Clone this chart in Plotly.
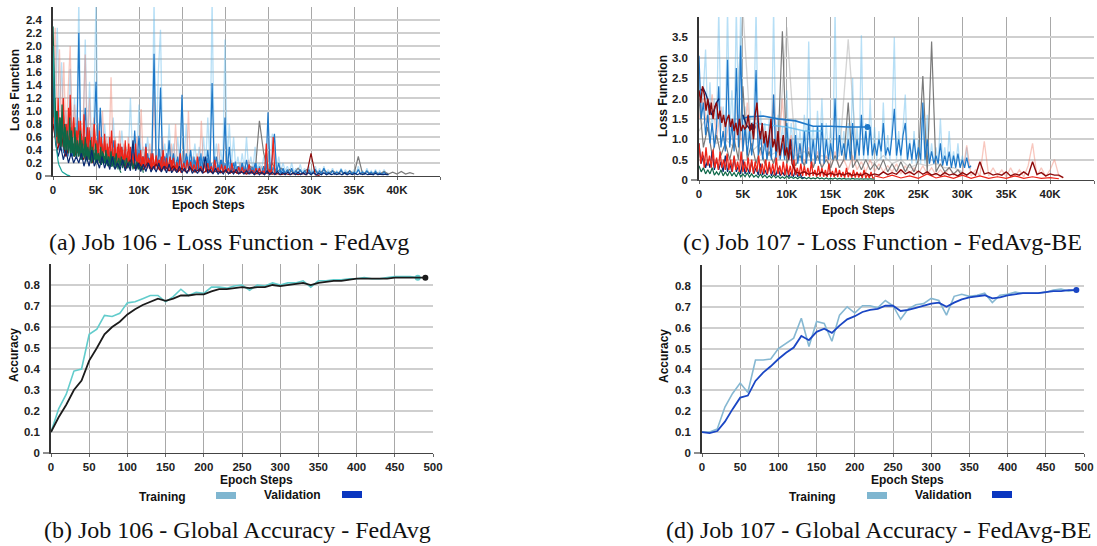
import plotly.graph_objects as go

W, H = 1097, 546

# ---------------- DATA ----------------
# Panel (a) Job 106 loss (x start, step, values)
a_lightblue_start, a_lightblue_step = 0, 250
a_lightblue = [2.3, 1.2, 2.28, 0.9, 1.75, 0.7, 1.0, 0.6,
               1.65, 0.5, 1.2, 0.45, 2.7, 0.4, 0.6, 2.1,
               0.4, 1.45, 0.5, 0.9, 2.7, 0.35, 1.05, 0.4,
               0.8, 0.3, 0.6, 0.3, 0.9, 0.3, 0.5, 0.25,
               0.7, 0.3, 0.45, 0.25, 1.2, 0.3, 0.5, 0.25,
               1.1, 0.3, 0.45, 0.2, 0.6, 0.25, 0.4, 2.7,
               0.3, 1.6, 2.25, 0.3, 0.5, 0.2, 0.8, 0.25,
               0.5, 0.2, 0.6, 0.2, 1.2, 0.25, 0.8, 0.2,
               0.4, 0.2, 0.5, 0.15, 0.45, 0.2, 0.6, 0.15,
               0.9, 0.2, 2.7, 0.2, 0.5, 0.15, 0.4, 0.15,
               2.1, 0.2, 0.8, 0.15, 0.6, 0.12, 0.3, 0.1,
               0.35, 0.1, 0.6, 0.1, 0.3, 0.1, 0.45, 0.1,
               0.2, 0.1, 0.3, 0.08, 0.35, 0.1, 0.65, 0.55,
               0.1, 0.3, 0.08, 0.2, 0.08, 0.15, 0.06, 0.2,
               0.06, 0.12, 0.06, 0.18, 0.05, 0.12, 0.05, 0.15,
               0.05, 0.1, 0.15, 0.05, 0.12, 0.04, 0.15, 0.04,
               0.1, 0.04, 0.12, 0.04, 0.08, 0.04, 0.12, 0.04,
               0.1, 0.04, 0.08, 0.04, 0.1, 0.04, 0.15, 0.04,
               0.08, 0.03, 0.12, 0.03, 0.08, 0.03, 0.1, 0.03,
               0.08, 0.03, 0.1, 0.03, 0.05]
a_blue_start, a_blue_step = 0, 250
a_blue = [1.6, 0.6, 0.9, 0.4, 0.7, 0.35, 0.8, 0.3,
          0.6, 0.3, 0.5, 0.3, 2.2, 0.3, 0.5, 1.05,
          0.3, 0.7, 0.25, 0.5, 1.45, 0.3, 1.05, 0.25,
          0.5, 0.2, 0.4, 0.2, 0.55, 0.2, 0.35, 0.2,
          0.45, 0.15, 0.3, 0.15, 0.4, 0.15, 0.7, 0.15,
          0.62, 0.15, 0.3, 0.12, 0.35, 0.12, 0.3, 1.88,
          0.15, 0.3, 1.36, 0.15, 0.3, 0.1, 0.55, 0.1,
          0.35, 0.1, 0.3, 0.1, 1.25, 0.1, 0.35, 0.1,
          0.4, 0.08, 0.25, 0.08, 0.3, 0.08, 0.3, 0.08,
          0.4, 0.08, 1.43, 0.08, 0.3, 0.06, 0.25, 0.06,
          0.9, 0.06, 0.45, 0.06, 0.2, 0.05, 0.15, 0.05,
          0.2, 0.05, 0.25, 0.05, 0.12, 0.04, 0.2, 0.04,
          0.1, 0.04, 0.15, 0.04, 0.98, 0.04, 0.3, 0.65,
          0.05, 0.2, 0.04, 0.12, 0.04, 0.1, 0.03, 0.12,
          0.03, 0.08, 0.03, 0.1, 0.03, 0.08, 0.03, 0.1,
          0.03, 0.06, 0.1, 0.03, 0.08, 0.03, 0.12, 0.03,
          0.06, 0.03, 0.08, 0.03, 0.06, 0.03, 0.1, 0.03,
          0.06, 0.03, 0.08, 0.03, 0.06, 0.03, 0.1, 0.03,
          0.06, 0.03, 0.08, 0.03, 0.06, 0.02, 0.07, 0.02,
          0.05, 0.02, 0.06, 0.02, 0.02]
a_midblue_start, a_midblue_step = 8000, 200
a_midblue = [0.35, 0.15, 0.4, 0.12, 0.3, 0.15, 0.45, 0.12, 0.3, 0.14,
             0.4, 0.12, 0.3, 0.1, 0.5, 0.12, 0.28, 0.1, 0.35, 0.1,
             0.3, 0.1, 0.42, 0.1, 0.28, 0.09, 0.35, 0.09, 0.25, 0.08,
             0.32, 0.08, 0.25, 0.08, 0.4, 0.08, 0.22, 0.07, 0.3, 0.07,
             0.25, 0.07, 0.3, 0.06, 0.22, 0.06, 0.35, 0.06, 0.2, 0.06,
             0.28, 0.05, 0.2, 0.05, 0.3, 0.05, 0.18, 0.05, 0.25, 0.05,
             0.2, 0.05, 0.25, 0.04, 0.18, 0.04, 0.22, 0.04, 0.15, 0.04,
             0.2, 0.04, 0.15, 0.04, 0.18, 0.03, 0.14, 0.03, 0.2, 0.03,
             0.15, 0.03, 0.12, 0.03, 0.16, 0.03, 0.1, 0.03, 0.14, 0.03,
             0.12, 0.03, 0.1, 0.02, 0.08, 0.02]
a_salmon_start, a_salmon_step = 0, 250
a_salmon = [1.5, 2.28, 0.8, 1.95, 0.7, 1.75, 0.6, 1.2,
            2.0, 0.5, 1.1, 0.45, 0.9, 0.4, 0.8, 1.87,
            0.35, 1.2, 0.35, 0.9, 0.3, 0.8, 0.3, 1.0,
            0.3, 0.6, 0.25, 1.52, 0.25, 0.6, 0.2, 0.7,
            0.2, 0.5, 0.2, 0.6, 0.2, 0.45, 0.18, 0.6,
            0.18, 1.03, 0.18, 0.45, 0.15, 0.5, 0.15, 1.3,
            0.15, 0.4, 0.12, 0.6, 0.12, 0.35, 0.12, 0.5,
            0.1, 0.8, 0.1, 0.35, 0.1, 0.4, 0.1, 1.0,
            0.1, 0.3, 0.08, 0.35, 0.08, 0.85, 0.08, 0.3,
            0.08, 0.25, 0.07, 0.3, 0.07, 0.5, 0.07, 0.25,
            0.06, 0.2, 0.06, 0.25, 0.05, 0.15, 0.05, 0.2,
            0.05, 0.15, 0.05, 0.25, 0.04, 0.15, 0.04, 0.12,
            0.04, 0.15, 0.04, 0.1, 0.04, 0.2, 0.04, 0.12,
            0.03]
a_red_start, a_red_step = 0, 200
a_red = [1.3, 0.6, 1.0, 0.45, 0.9, 0.5, 1.2, 0.4, 0.8, 0.35,
         1.25, 0.4, 0.9, 0.35, 0.7, 0.3, 0.85, 0.3, 0.6, 0.25,
         0.75, 0.25, 0.55, 0.2, 0.8, 0.25, 0.5, 0.2, 0.6, 0.2,
         0.55, 0.2, 0.45, 0.18, 0.7, 0.2, 0.4, 0.15, 0.5, 0.15,
         0.45, 0.15, 0.35, 0.12, 0.5, 0.15, 0.3, 0.12, 0.4, 0.12,
         0.35, 0.12, 0.3, 0.1, 0.45, 0.12, 0.25, 0.1, 0.35, 0.1,
         0.3, 0.1, 0.25, 0.08, 0.4, 0.1, 0.22, 0.08, 0.3, 0.08,
         0.28, 0.08, 0.2, 0.07, 0.35, 0.08, 0.2, 0.07, 0.25, 0.07,
         0.22, 0.07, 0.18, 0.06, 0.3, 0.07, 0.15, 0.06, 0.2, 0.06,
         0.2, 0.06, 0.15, 0.05, 0.25, 0.06, 0.13, 0.05, 0.18, 0.05,
         0.16, 0.05, 0.12, 0.04, 0.2, 0.05, 0.1, 0.04, 0.14, 0.04,
         0.14, 0.04, 0.1, 0.04, 0.18, 0.04, 0.09, 0.03, 0.12, 0.03,
         0.12, 0.03, 0.08, 0.03, 0.5, 0.03, 0.1, 0.03, 0.6, 0.03, 0.02]
a_red2_start, a_red2_step = 0, 150
a_red2 = [1.1, 0.7, 0.95, 0.5, 1.2, 0.6, 0.85, 0.45, 1.0, 0.55,
          0.8, 0.45, 1.05, 0.5, 0.75, 0.4, 0.9, 0.45, 0.7, 0.35,
          0.85, 0.4, 0.65, 0.35, 0.95, 0.4, 0.6, 0.3, 0.75, 0.35,
          0.6, 0.3, 0.8, 0.3, 0.55, 0.28, 0.7, 0.3, 0.5, 0.25,
          0.65, 0.25, 0.5, 0.22, 0.6, 0.25, 0.45, 0.2, 0.55, 0.22,
          0.45, 0.2, 0.5, 0.2, 0.4, 0.18, 0.55, 0.2, 0.38, 0.16,
          0.45, 0.16, 0.35, 0.15, 0.5, 0.15, 0.32, 0.14, 0.4, 0.13,
          0.3, 0.12, 0.38, 0.12, 0.28, 0.11, 0.35, 0.11, 0.26, 0.1,
          0.32, 0.1, 0.25, 0.09, 0.3, 0.09, 0.22, 0.08, 0.28, 0.08,
          0.2, 0.08, 0.25, 0.07, 0.18, 0.07, 0.22, 0.06, 0.15, 0.06,
          0.05]
a_darkred_start, a_darkred_step = 0, 500
a_darkred = [0.8, 0.4, 0.6, 0.3, 0.5, 0.3, 0.45, 0.25, 0.4, 0.2,
             0.35, 0.2, 0.3, 0.15, 0.3, 0.15, 0.25, 0.12, 0.25, 0.12,
             0.2, 0.1, 0.2, 0.1, 0.18, 0.08, 0.15, 0.08, 0.15, 0.07,
             0.12, 0.06, 0.12, 0.06, 0.1, 0.05, 0.1, 0.05, 0.08, 0.05,
             0.08, 0.04, 0.07, 0.04, 0.06, 0.03, 0.06, 0.03, 0.05, 0.03,
             0.05, 0.03, 0.04, 0.02, 0.04, 0.02, 0.04, 0.02, 0.04, 0.02,
             0.35, 0.02, 0.01]
a_green_start, a_green_step = 0, 150
a_green = [2.3, 1.2, 0.7, 1.0, 0.5, 0.9, 0.4, 1.1, 0.45, 0.8,
           0.4, 0.7, 0.35, 0.9, 0.35, 0.6, 0.3, 0.75, 0.3, 0.55,
           0.3, 0.7, 0.25, 0.5, 0.3, 0.6, 0.25, 0.45, 0.25, 0.55,
           0.2, 0.4, 0.25, 0.5, 0.2, 0.35, 0.22, 0.45, 0.2, 0.35,
           0.2, 0.4, 0.18, 0.3, 0.2, 0.38, 0.15, 0.3, 0.18, 0.35,
           0.15, 0.28, 0.15, 0.3, 0.12, 0.25, 0.15, 0.28, 0.12, 0.22,
           0.12, 0.25, 0.1, 0.2, 0.12, 0.22, 0.1, 0.18, 0.1, 0.15, 0.05]
a_green2_start, a_green2_step = 0, 120
a_green2 = [1.6, 0.9, 1.2, 0.6, 1.0, 0.7, 0.5, 0.9, 0.45, 0.8,
            0.6, 0.4, 0.75, 0.35, 0.65, 0.4, 0.55, 0.3, 0.7, 0.35,
            0.5, 0.3, 0.6, 0.28, 0.5, 0.3, 0.45, 0.25, 0.55, 0.28,
            0.4, 0.25, 0.5, 0.22, 0.42, 0.25, 0.38, 0.2, 0.45, 0.22,
            0.35, 0.2, 0.4, 0.18, 0.35, 0.2, 0.32, 0.17, 0.38, 0.18,
            0.3, 0.16, 0.34, 0.15, 0.3, 0.15, 0.28, 0.14, 0.3, 0.13,
            0.25, 0.12, 0.22, 0.1, 0.2, 0.08, 0.05]
a_navy_start, a_navy_step = 0, 300
a_navy = [1.55, 0.5, 0.3, 0.45, 0.25, 0.4, 0.2, 0.35, 0.2, 0.3,
          0.2, 0.35, 0.15, 0.3, 0.15, 0.4, 0.15, 0.25, 0.12, 0.3,
          0.12, 0.25, 0.1, 0.3, 0.1, 0.2, 0.1, 0.25, 0.08, 0.2,
          0.08, 0.55, 0.08, 0.2, 0.07, 0.18, 0.07, 0.2, 0.06, 0.15,
          0.06, 0.2, 0.06, 0.15, 0.05, 0.18, 0.05, 0.12, 0.05, 0.15,
          0.05, 0.12, 0.04, 0.15, 0.04, 0.1, 0.04, 0.12, 0.04, 0.3,
          0.04, 0.1, 0.03, 0.12, 0.03, 0.08, 0.03, 0.1, 0.03, 0.08,
          0.03, 0.1, 0.03, 0.07, 0.03, 0.08, 0.03, 0.07, 0.02, 0.08,
          0.02, 0.06, 0.02, 0.08, 0.02, 0.06, 0.02, 0.07, 0.02, 0.05,
          0.02, 0.06, 0.02, 0.05, 0.02, 0.06, 0.02, 0.05, 0.02, 0.05,
          0.02, 0.05, 0.02, 0.04, 0.02, 0.05, 0.02, 0.04, 0.02, 0.04,
          0.02, 0.04, 0.02, 0.05, 0.02, 0.04, 0.02, 0.04, 0.02, 0.04,
          0.02, 0.04, 0.02, 0.03, 0.02, 0.04, 0.02, 0.03, 0.02, 0.03,
          0.02]
a_gray_start, a_gray_step = 20000, 500
a_gray = [0.1, 0.05, 0.12, 0.05, 0.1, 0.05, 0.15, 0.05, 0.85, 0.35,
          0.08, 0.2, 0.05, 0.12, 0.05, 0.1, 0.04, 0.12, 0.04, 0.1,
          0.04, 0.08, 0.04, 0.1, 0.04, 0.08, 0.04, 0.07, 0.03, 0.08,
          0.03, 0.3, 0.03, 0.07, 0.03, 0.06, 0.03, 0.07, 0.03, 0.06,
          0.03, 0.07, 0.03, 0.05, 0.03]
a_teal_start, a_teal_step = 0, 100
a_teal = [2.0, 1.2, 0.8, 0.55, 0.4, 0.3, 0.22, 0.17, 0.13, 0.1,
          0.08, 0.06, 0.05, 0.04, 0.03, 0.02, 0.02, 0.01, 0.01, 0.01, 0.0]

# Panel (c) Job 107 loss
c_lightblue_start, c_lightblue_step = 0, 250
c_lightblue = [2.6, 1.6, 2.2, 3.2, 1.4, 2.4, 1.2, 2.0,
               1.3, 4.2, 1.2, 1.8, 1.1, 4.2, 1.2, 2.2,
               1.0, 4.2, 1.5, 4.2, 1.0, 1.8, 0.9, 1.6,
               1.0, 1.5, 4.2, 0.9, 1.7, 0.9, 1.4, 0.8,
               1.5, 0.9, 4.2, 0.8, 1.6, 0.8, 1.3, 0.8,
               2.2, 0.7, 1.4, 0.7, 1.5, 0.7, 1.2, 0.7,
               1.6, 0.7, 3.4, 0.7, 1.3, 0.6, 1.7, 0.6,
               2.0, 0.6, 1.4, 0.6, 1.3, 0.6, 4.2, 0.6,
               1.5, 0.6, 1.2, 0.5, 1.4, 0.5, 2.5, 0.5,
               1.3, 0.5, 3.55, 0.5, 1.4, 0.5, 2.0, 0.5,
               1.3, 0.5, 1.2, 0.5, 1.9, 0.5, 1.1, 0.5,
               1.4, 3.5, 0.5, 1.2, 0.5, 1.3, 2.1, 0.5,
               1.0, 0.4, 1.2, 0.4, 1.0, 0.4, 1.7, 0.4,
               1.6, 0.4, 0.9, 0.4, 0.8, 0.4, 1.5, 0.4,
               0.8, 0.35, 1.2, 0.35, 0.7, 0.35, 0.9, 0.3,
               0.6, 0.3, 0.8, 0.3, 0.3]
c_blue_start, c_blue_step = 0, 250
c_blue = [3.05, 1.5, 1.9, 1.1, 1.6, 0.9, 1.4, 0.8,
          1.3, 2.3, 0.8, 1.2, 0.7, 2.95, 0.8, 1.4,
          0.7, 2.75, 0.8, 3.3, 0.7, 1.3, 0.6, 1.2,
          0.6, 1.1, 2.7, 0.6, 1.2, 0.5, 1.0, 0.5,
          1.1, 0.5, 2.1, 0.5, 1.1, 0.5, 0.9, 0.5,
          1.4, 0.5, 1.0, 0.4, 1.1, 0.4, 0.9, 0.4,
          1.2, 0.4, 1.5, 0.4, 1.0, 0.4, 1.3, 0.4,
          1.4, 0.4, 1.0, 0.5, 0.9, 0.5, 2.0, 0.5,
          1.1, 0.6, 0.9, 0.5, 1.0, 0.5, 1.4, 0.5,
          1.0, 0.6, 1.6, 0.6, 1.2, 0.6, 1.3, 0.6,
          0.9, 0.6, 1.0, 0.7, 1.4, 0.6, 0.8, 0.6,
          1.1, 1.75, 0.6, 1.0, 0.6, 1.1, 1.4, 0.5,
          0.9, 0.5, 1.0, 0.5, 0.8, 0.5, 1.9, 0.5,
          1.0, 0.4, 0.7, 0.4, 0.6, 0.4, 0.9, 0.35,
          0.6, 0.35, 0.7, 0.3, 0.6, 0.3, 0.65, 0.3,
          0.5, 0.3, 0.55, 0.3, 0.35]
c_blue_smooth_x = [5000, 5600, 7300, 9000, 11000, 13000, 15000, 17000, 19200]
c_blue_smooth = [1.5, 1.55, 1.57, 1.5, 1.45, 1.32, 1.32, 1.3, 1.3]
c_lightblue_smooth_x = [6000, 8000, 10000, 12000, 14000]
c_lightblue_smooth = [1.4, 1.35, 1.3, 1.2, 1.2]
c_darkred_early_start, c_darkred_early_step = 0, 200
c_darkred_early = [2.2, 1.9, 2.3, 2.1, 1.7, 2.0, 1.6, 1.9, 1.5, 1.8,
                   1.9, 1.5, 1.7, 1.4, 1.6, 1.3, 1.5, 1.6, 1.3, 1.5,
                   1.2, 1.4, 1.1, 1.5, 1.2, 1.35, 1.25, 1.3, 1.6, 1.2,
                   1.4, 1.0, 1.6, 1.9, 1.3, 1.0, 1.4, 0.9, 1.2, 0.8,
                   1.1, 1.5, 0.8, 1.0, 0.7, 1.2, 0.6, 0.9, 1.1, 0.6,
                   0.8, 0.5, 1.0, 0.4, 0.3, 0.2]
c_darkred_late_start, c_darkred_late_step = 11000, 500
c_darkred_late = [0.2, 0.16, 0.2, 0.14, 0.18, 0.13, 0.2, 0.12, 0.17, 0.12,
                  0.16, 0.12, 0.17, 0.11, 0.15, 0.11, 0.17, 0.11, 0.15, 0.12,
                  0.2, 0.13, 0.18, 0.14, 0.25, 0.15, 0.2, 0.13, 0.22, 0.14,
                  0.2, 0.12, 0.16, 0.1, 0.18, 0.12, 0.15, 0.1, 0.18, 0.12,
                  0.2, 0.12, 0.45, 0.15, 0.18, 0.12, 0.15, 0.12, 0.2, 0.1,
                  0.15, 0.12, 0.2, 0.12, 0.45, 0.14, 0.18, 0.1, 0.15, 0.12,
                  0.12, 0.06]
c_salmon_start, c_salmon_step = 0, 500
c_salmon = [1.5, 2.0, 1.2, 2.1, 1.0, 1.8, 0.9, 1.5, 0.8, 1.6,
            0.7, 1.9, 0.7, 1.4, 0.6, 1.2, 0.6, 2.1, 0.5, 2.0,
            0.5, 1.1, 0.4, 0.9, 0.4, 0.8, 0.35, 0.7, 0.3, 0.6,
            0.3, 0.7, 0.3, 0.5, 0.25, 0.6, 0.25, 0.45, 0.2, 0.5,
            0.2, 0.4, 0.2, 0.35, 0.2, 0.4, 0.15, 0.35, 0.15, 0.3,
            0.15, 0.35, 0.15, 0.3, 0.12, 0.25, 0.12, 0.3, 0.12, 0.25,
            0.1, 0.85, 0.1, 0.25, 0.1, 0.95, 0.1, 0.3, 0.1, 0.25,
            0.08, 0.3, 0.08, 0.25, 0.08, 0.35, 0.9, 0.1, 0.3, 0.08,
            0.25, 0.5, 0.1, 0.05]
c_red_start, c_red_step = 0, 200
c_red = [0.9, 0.4, 0.7, 0.3, 0.8, 0.35, 0.6, 0.3, 0.75, 0.3,
         0.55, 0.25, 0.7, 0.3, 0.5, 0.25, 0.65, 0.25, 0.5, 0.2,
         0.6, 0.25, 0.45, 0.2, 0.7, 0.2, 0.45, 0.2, 0.55, 0.2,
         0.5, 0.15, 0.45, 0.2, 0.6, 0.15, 0.4, 0.15, 0.5, 0.15,
         0.45, 0.15, 0.4, 0.12, 0.55, 0.15, 0.35, 0.12, 0.45, 0.12,
         0.4, 0.12, 0.35, 0.1, 0.5, 0.12, 0.3, 0.1, 0.4, 0.1,
         0.35, 0.1, 0.3, 0.08, 0.45, 0.1, 0.25, 0.08, 0.35, 0.08,
         0.3, 0.08, 0.25, 0.07, 0.4, 0.08, 0.22, 0.07, 0.3, 0.07,
         0.25, 0.07, 0.2, 0.06, 0.3, 0.07, 0.18, 0.06, 0.25, 0.06,
         0.2, 0.06, 0.18, 0.05, 0.25, 0.05, 0.15, 0.05, 0.2, 0.05,
         0.05]
c_red_late_start, c_red_late_step = 20000, 1000
c_red_late = [0.1, 0.05, 0.12, 0.05, 0.1, 0.04, 0.15, 0.05, 0.1, 0.04, 0.12,
              0.04, 0.1, 0.04, 0.08, 0.04, 0.1, 0.04, 0.08, 0.04, 0.06, 0.03]
c_navy_low_start, c_navy_low_step = 0, 250
c_navy_low = [0.9, 0.4, 0.6, 0.3, 0.5, 0.3, 0.7, 0.25, 0.5, 0.25,
              0.45, 0.2, 0.6, 0.2, 0.4, 0.2, 0.55, 0.2, 0.35, 0.15,
              0.5, 0.15, 0.3, 0.15, 0.45, 0.15, 0.3, 0.12, 0.4, 0.12,
              0.25, 0.12, 0.35, 0.1, 0.25, 0.1, 0.3, 0.1, 0.2, 0.1,
              0.3, 0.08, 0.2, 0.08, 0.25, 0.08, 0.15, 0.06, 0.05]
c_navy_high_x = [200, 500, 800, 1100, 1400, 1700, 2000, 2300]
c_navy_high = [2.2, 2.25, 2.1, 1.9, 1.6, 1.7, 1.9, 2.0]
c_navy_mid_x = [5000, 5400, 5800, 6100]
c_navy_mid = [1.6, 1.35, 1.25, 1.3]
c_green_start, c_green_step = 0, 250
c_green = [0.35, 0.2, 0.3, 0.15, 0.25, 0.15, 0.3, 0.12, 0.2, 0.12,
           0.25, 0.1, 0.2, 0.1, 0.22, 0.1, 0.18, 0.08, 0.2, 0.08,
           0.15, 0.08, 0.18, 0.07, 0.15, 0.07, 0.12, 0.06, 0.15, 0.06,
           0.12, 0.05, 0.1, 0.05, 0.12, 0.05, 0.1, 0.04, 0.08, 0.04,
           0.1, 0.04, 0.08, 0.04, 0.07, 0.03, 0.08, 0.03, 0.06, 0.03,
           0.06, 0.03, 0.05, 0.03, 0.06, 0.03, 0.05, 0.02, 0.05, 0.02,
           0.04, 0.02, 0.05, 0.02, 0.04, 0.02, 0.04, 0.02, 0.03, 0.02,
           0.04, 0.02, 0.03, 0.02, 0.03, 0.02, 0.03, 0.02, 0.03, 0.02,
           0.02]
c_gray_start, c_gray_step = 0, 500
c_gray = [2.0, 0.8, 1.3, 0.6, 1.1, 0.6, 0.9, 0.5, 1.0, 0.5,
          2.3, 0.5, 0.9, 0.4, 0.8, 0.4, 0.7, 0.4, 0.8, 3.65,
          0.4, 0.7, 0.35, 0.6, 0.35, 0.7, 0.3, 0.6, 0.3, 0.5,
          0.3, 0.6, 0.3, 0.5, 1.9, 0.3, 0.5, 0.25, 0.5, 0.25,
          0.4, 0.25, 0.5, 0.2, 0.4, 0.2, 0.45, 0.2, 0.4, 0.2,
          0.5, 2.55, 0.2, 3.4, 0.2, 0.4, 0.2, 0.3, 0.15, 0.25, 0.1]
c_lightgray_start, c_lightgray_step = 0, 1000
c_lightgray = [1.2, 1.6, 0.9, 1.0, 0.8, 4.2, 0.7, 0.9, 0.6, 0.7,
               3.75, 0.6, 0.7, 0.5, 0.6, 0.5, 0.6, 3.45, 0.5, 0.5,
               0.4, 0.6, 0.4, 0.5, 0.3, 0.4, 0.35, 0.4, 0.3, 0.3, 0.2]

# Accuracy panels
acc_steps = [0, 10, 20, 30, 40, 50, 60, 70, 80, 90, 100, 110, 120, 130, 140,
             150, 160, 170, 180, 190, 200, 210, 220, 230, 240, 250, 260, 270,
             280, 290, 300, 310, 320, 330, 340, 350, 360, 370, 380, 390, 400,
             410, 420, 430, 440, 450, 460, 470, 480, 490]
b_train = [0.10, 0.21, 0.28, 0.39, 0.40, 0.565, 0.59, 0.655, 0.65, 0.665,
           0.715, 0.72, 0.735, 0.75, 0.75, 0.72, 0.745, 0.78, 0.75, 0.765,
           0.76, 0.79, 0.79, 0.785, 0.795, 0.80, 0.775, 0.80, 0.795, 0.81,
           0.80, 0.81, 0.81, 0.82, 0.79, 0.82, 0.82, 0.825, 0.825, 0.83,
           0.83, 0.835, 0.83, 0.83, 0.835, 0.84, 0.84, 0.84, 0.835]
b_val = [0.10, 0.17, 0.23, 0.30, 0.345, 0.44, 0.50, 0.565, 0.60, 0.625,
         0.66, 0.685, 0.705, 0.72, 0.735, 0.725, 0.735, 0.75, 0.75, 0.755,
         0.755, 0.77, 0.78, 0.78, 0.785, 0.79, 0.785, 0.79, 0.79, 0.80,
         0.795, 0.80, 0.805, 0.81, 0.80, 0.81, 0.815, 0.82, 0.82, 0.825,
         0.83, 0.83, 0.83, 0.83, 0.83, 0.835, 0.835, 0.835, 0.835, 0.835]
d_train = [0.10, 0.10, 0.115, 0.22, 0.285, 0.335, 0.29, 0.445, 0.445, 0.45,
           0.50, 0.525, 0.55, 0.645, 0.51, 0.63, 0.62, 0.535, 0.66, 0.70,
           0.67, 0.705, 0.705, 0.695, 0.73, 0.705, 0.64, 0.69, 0.71, 0.715,
           0.74, 0.73, 0.66, 0.75, 0.76, 0.75, 0.755, 0.765, 0.72, 0.755,
           0.76, 0.77, 0.765, 0.765, 0.765, 0.77, 0.78, 0.785, 0.775, 0.78]
d_val = [0.10, 0.095, 0.105, 0.15, 0.21, 0.265, 0.275, 0.345, 0.385, 0.415,
         0.45, 0.48, 0.505, 0.56, 0.54, 0.58, 0.595, 0.575, 0.61, 0.64,
         0.655, 0.675, 0.685, 0.69, 0.705, 0.705, 0.68, 0.685, 0.695, 0.705,
         0.715, 0.72, 0.70, 0.72, 0.735, 0.745, 0.75, 0.755, 0.74, 0.745,
         0.755, 0.76, 0.765, 0.765, 0.765, 0.77, 0.775, 0.775, 0.78, 0.78]

loss_x_ticks = [0, 5000, 10000, 15000, 20000, 25000, 30000, 35000, 40000, 45000]
loss_x_labels = ["0", "5K", "10K", "15K", "20K", "25K", "30K", "35K", "40K", ""]
a_y_ticks = [0, 0.2, 0.4, 0.6, 0.8, 1.0, 1.2, 1.4, 1.6, 1.8, 2.0, 2.2, 2.4, 2.6]
a_y_labels = ["0", "0.2", "0.4", "0.6", "0.8", "1.0", "1.2", "1.4", "1.6", "1.8",
              "2.0", "2.2", "2.4", ""]
c_y_ticks = [0, 0.5, 1.0, 1.5, 2.0, 2.5, 3.0, 3.5, 4.0]
c_y_labels = ["0", "0.5", "1.0", "1.5", "2.0", "2.5", "3.0", "3.5", ""]
acc_x_ticks = [0, 50, 100, 150, 200, 250, 300, 350, 400, 450, 500]
acc_y_ticks = [0, 0.1, 0.2, 0.3, 0.4, 0.5, 0.6, 0.7, 0.8, 0.9]
acc_y_labels = ["0", "0.1", "0.2", "0.3", "0.4", "0.5", "0.6", "0.7", "0.8", ""]

captions = ["(a) Job 106 - Loss Function - FedAvg",
            "(b) Job 106 - Global Accuracy - FedAvg",
            "(c) Job 107 - Loss Function - FedAvg-BE",
            "(d) Job 107 - Global Accuracy - FedAvg-BE"]

# ---------------- FIGURE ----------------
def xs(start, step, vals):
    return [start + i * step for i in range(len(vals))]

fig = go.Figure()

def add_loss(start, step, vals, color, width, ax, ay):
    fig.add_trace(go.Scatter(x=xs(start, step, vals), y=vals, mode="lines",
                             line=dict(color=color, width=width),
                             xaxis=ax, yaxis=ay, showlegend=False, hoverinfo="skip"))

def add_xy(x, y, color, width, ax, ay, end_marker=False):
    fig.add_trace(go.Scatter(x=x, y=y, mode="lines",
                             line=dict(color=color, width=width),
                             xaxis=ax, yaxis=ay, showlegend=False, hoverinfo="skip"))
    if end_marker:
        fig.add_trace(go.Scatter(x=[x[-1]], y=[y[-1]], mode="markers",
                                 marker=dict(color=color, size=6),
                                 xaxis=ax, yaxis=ay, showlegend=False, hoverinfo="skip"))

LB = "rgba(95,185,235,0.45)"
SAL = "rgba(240,130,110,0.45)"
BLUE = "#1f78c8"
MBLUE = "#2b86d6"
RED = "#ee2418"
DRED = "#8e0a0a"
GREEN = "#0d6848"
NAVY = "#0b2a70"
GRAY = "#7a7a7a"
LGRAY = "rgba(170,170,170,0.5)"

# panel a
add_loss(a_lightblue_start, a_lightblue_step, a_lightblue, LB, 1.3, "x", "y")
add_loss(a_salmon_start, a_salmon_step, a_salmon, SAL, 1.3, "x", "y")
add_loss(a_gray_start, a_gray_step, a_gray, GRAY, 1.2, "x", "y")
add_loss(a_midblue_start, a_midblue_step, a_midblue, MBLUE, 1.1, "x", "y")
add_loss(a_blue_start, a_blue_step, a_blue, BLUE, 1.2, "x", "y")
add_loss(a_red2_start, a_red2_step, a_red2, RED, 1.1, "x", "y")
add_loss(a_red_start, a_red_step, a_red, RED, 1.2, "x", "y")
add_loss(a_darkred_start, a_darkred_step, a_darkred, DRED, 1.2, "x", "y")
add_loss(a_green2_start, a_green2_step, a_green2, GREEN, 1.1, "x", "y")
add_loss(a_green_start, a_green_step, a_green, GREEN, 1.2, "x", "y")
add_loss(a_navy_start, a_navy_step, a_navy, NAVY, 1.2, "x", "y")
add_loss(a_teal_start, a_teal_step, a_teal, "#1aa59a", 1.2, "x", "y")

# panel c
add_loss(c_lightgray_start, c_lightgray_step, c_lightgray, LGRAY, 1.3, "x2", "y2")
add_loss(c_lightblue_start, c_lightblue_step, c_lightblue, LB, 1.3, "x2", "y2")
add_loss(c_salmon_start, c_salmon_step, c_salmon, SAL, 1.3, "x2", "y2")
add_loss(c_gray_start, c_gray_step, c_gray, GRAY, 1.2, "x2", "y2")
add_loss(c_blue_start, c_blue_step, c_blue, BLUE, 1.2, "x2", "y2")
add_xy(c_lightblue_smooth_x, c_lightblue_smooth, "rgba(95,185,235,0.8)", 1.5, "x2", "y2")
add_xy(c_blue_smooth_x, c_blue_smooth, BLUE, 1.6, "x2", "y2", end_marker=True)
add_loss(c_green_start, c_green_step, c_green, GREEN, 1.2, "x2", "y2")
add_loss(c_navy_low_start, c_navy_low_step, c_navy_low, NAVY, 1.2, "x2", "y2")
add_xy(c_navy_high_x, c_navy_high, NAVY, 1.4, "x2", "y2")
add_xy(c_navy_mid_x, c_navy_mid, NAVY, 1.4, "x2", "y2", end_marker=True)
add_loss(c_red_start, c_red_step, c_red, RED, 1.3, "x2", "y2")
add_loss(c_red_late_start, c_red_late_step, c_red_late, RED, 1.2, "x2", "y2")
add_loss(c_darkred_early_start, c_darkred_early_step, c_darkred_early, DRED, 1.4, "x2", "y2")
add_loss(c_darkred_late_start, c_darkred_late_step, c_darkred_late, DRED, 1.4, "x2", "y2")

# panel b
add_xy(acc_steps[:len(b_train)], b_train, "#62cccc", 1.6, "x3", "y3", end_marker=True)
add_xy(acc_steps[:len(b_val)], b_val, "#1b1b1b", 1.8, "x3", "y3", end_marker=True)
# panel d
add_xy(acc_steps[:len(d_train)], d_train, "#86b8d2", 1.6, "x4", "y4")
add_xy(acc_steps[:len(d_val)], d_val, "#1a46c4", 1.8, "x4", "y4", end_marker=True)

def dx(a, b):
    return [a / W, b / W]

def dy(top, bottom):
    return [1 - bottom / H, 1 - top / H]

TF = dict(family="Liberation Sans, Arial, sans-serif", size=11.5, color="#222", weight="bold")

def xaxis_cfg(domain, anchor, rng, tv, tt):
    return dict(domain=domain, anchor=anchor, range=rng, tickvals=tv, ticktext=tt,
                showgrid=True, gridcolor="#a8a8a8", gridwidth=1, zeroline=False,
                showline=True, linecolor="#444", linewidth=1.2, automargin=False,
                ticks="outside", ticklen=3, tickcolor="#666", tickfont=TF, fixedrange=True)

def yaxis_cfg(domain, anchor, rng, tv, tt):
    return dict(domain=domain, anchor=anchor, range=rng, tickvals=tv, ticktext=tt,
                showgrid=True, gridcolor="#cfcfcf", gridwidth=1.5, zeroline=False,
                showline=True, linecolor="#333", linewidth=1.5, automargin=False,
                ticks="outside", ticklen=7, tickcolor="rgba(0,0,0,0)", tickfont=TF,
                fixedrange=True)

PANELS = {
    "a": (53, 440, 7, 176),
    "c": (699, 1094, 17, 180),
    "b": (51, 433, 264, 453),
    "d": (702, 1084, 265, 453),
}

fig.update_layout(
    width=W, height=H, margin=dict(l=0, r=0, t=0, b=0, autoexpand=False),
    paper_bgcolor="white", plot_bgcolor="white", showlegend=False,
    xaxis=xaxis_cfg(dx(53, 440), "y", [0, 45000], loss_x_ticks, loss_x_labels),
    yaxis=yaxis_cfg(dy(7, 176), "x", [0, 2.6], a_y_ticks, a_y_labels),
    xaxis2=xaxis_cfg(dx(699, 1094), "y2", [0, 45000], loss_x_ticks, loss_x_labels),
    yaxis2=yaxis_cfg(dy(17, 180), "x2", [0, 4.0], c_y_ticks, c_y_labels),
    xaxis3=xaxis_cfg(dx(51, 433), "y3", [0, 500], acc_x_ticks, [str(v) for v in acc_x_ticks]),
    yaxis3=yaxis_cfg(dy(264, 453), "x3", [0, 0.9], acc_y_ticks, acc_y_labels),
    xaxis4=xaxis_cfg(dx(702, 1084), "y4", [0, 500], acc_x_ticks, [str(v) for v in acc_x_ticks]),
    yaxis4=yaxis_cfg(dy(265, 453), "x4", [0, 0.9], acc_y_ticks, acc_y_labels),
)

# x baseline extends a little to the left of the y axis
for (x0, x1, t, b) in PANELS.values():
    fig.add_shape(type="line", xref="paper", yref="paper",
                  x0=(x0 - 8) / W, x1=x0 / W, y0=1 - b / H, y1=1 - b / H,
                  line=dict(color="#444", width=1.2))

BF = dict(family="Liberation Sans, Arial, sans-serif", size=12, color="#111", weight="bold")
CF = dict(family="Liberation Serif, Times New Roman, serif", size=24, color="#111")

def ann(text, x, y, font, angle=0):
    fig.add_annotation(text=text, x=x / W, y=1 - y / H, xref="paper", yref="paper",
                       showarrow=False, font=font, textangle=angle,
                       xanchor="center", yanchor="middle")

ann("Loss Function", 15, 90, BF, -90)
ann("Epoch Steps", 208, 205, BF)
ann("Loss Function", 663, 96, BF, -90)
ann("Epoch Steps", 858, 210, BF)
ann("Accuracy", 14, 355, BF, -90)
ann("Epoch Steps", 256, 480, BF)
ann("Accuracy", 664, 356, BF, -90)
ann("Epoch Steps", 907, 480, BF)

ann("Training", 162, 497, BF)
ann("Validation", 292, 495, BF)
ann("Training", 813, 497, BF)
ann("Validation", 943, 495, BF)

def swatch(x0, y0, x1, y1, color):
    fig.add_shape(type="rect", xref="paper", yref="paper",
                  x0=x0 / W, x1=x1 / W, y0=1 - y1 / H, y1=1 - y0 / H,
                  fillcolor=color, line=dict(width=0))

swatch(216, 492, 236, 499, "#7fb6d0")
swatch(342, 491, 362, 498, "#0a36c0")
swatch(867, 492, 887, 499, "#7fb6d0")
swatch(992, 491, 1012, 498, "#0a36c0")

ann(captions[0], 229, 242, CF)
ann(captions[1], 237, 530, CF)
ann(captions[2], 882, 242, CF)
ann(captions[3], 878, 530, CF)

fig.write_html("out.html", config={"displayModeBar": False},
               post_script="document.body.style.margin='0';document.body.style.overflow='hidden';")
